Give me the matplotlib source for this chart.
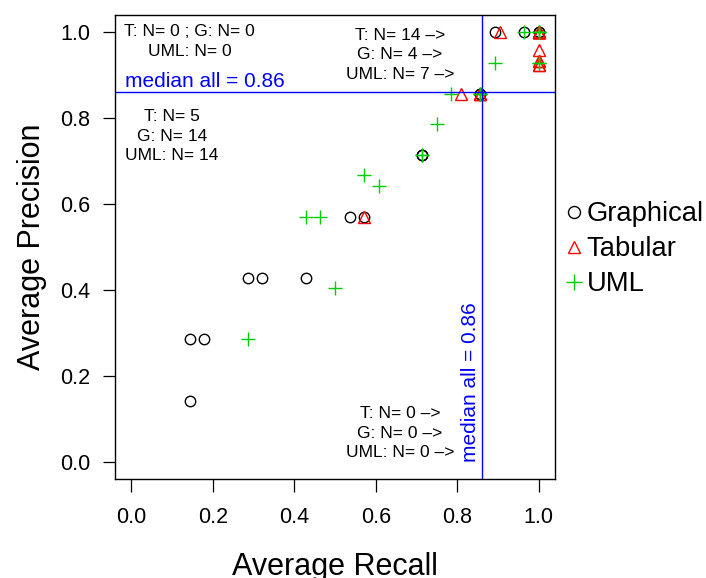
import matplotlib
matplotlib.use("Agg")
import matplotlib.pyplot as plt

plt.rcParams["font.family"] = ["Liberation Sans", "DejaVu Sans"]

# ---------------- data ----------------
g_recall = [0.143, 0.143, 0.179, 0.286, 0.321, 0.429, 0.536, 0.571, 0.714, 0.714,
            0.857, 0.857, 0.893, 0.964, 1.0, 1.0]
g_prec = [0.143, 0.286, 0.286, 0.429, 0.429, 0.429, 0.571, 0.571, 0.714, 0.714,
          0.857, 0.857, 1.0, 1.0, 1.0, 1.0]

t_recall = [0.571, 0.810, 0.857, 0.857, 0.857, 0.905, 1.0, 1.0, 1.0, 1.0, 1.0,
            1.0, 1.0, 1.0, 1.0, 1.0, 1.0, 1.0, 1.0]
t_prec = [0.571, 0.857, 0.857, 0.857, 0.857, 1.0, 1.0, 1.0, 1.0, 1.0, 1.0,
          1.0, 1.0, 1.0, 0.958, 0.933, 0.933, 0.923, 0.923]

u_recall = [0.286, 0.500, 0.429, 0.464, 0.571, 0.607, 0.714, 0.714, 0.750, 0.786,
            0.857, 0.857, 0.857, 0.893, 0.964, 1.0, 1.0, 1.0, 1.0, 1.0]
u_prec = [0.286, 0.405, 0.571, 0.571, 0.667, 0.643, 0.714, 0.714, 0.786, 0.857,
          0.857, 0.857, 0.857, 0.929, 1.0, 1.0, 1.0, 1.0, 0.929, 0.929]

median_all = 0.86
ticks = [0.0, 0.2, 0.4, 0.6, 0.8, 1.0]

BLUE = "#0000FF"; RED = "#FF0000"; GREEN = "#00CD00"

fig = plt.figure(figsize=(7.06, 5.78), dpi=100)
ax = fig.add_axes([0.163, 0.171, 0.623, 0.803])

ax.plot(g_recall, g_prec, ls="none", marker="o", ms=7.5, mfc="none", mec="black",
        mew=1.0, label="Graphical")
ax.plot(t_recall, t_prec, ls="none", marker="^", ms=8, mfc="none", mec=RED,
        mew=1.0, label="Tabular")
ax.plot(u_recall, u_prec, ls="none", marker="+", ms=10.5, mec=GREEN,
        mew=1.0, label="UML")

ax.axvline(median_all, color=BLUE, lw=1.0)
ax.axhline(median_all, color=BLUE, lw=1.0)

ax.set_xlim(-0.04, 1.04)
ax.set_ylim(-0.04, 1.04)
ax.set_xticks(ticks)
ax.set_yticks(ticks)
ax.set_xticklabels([f"{t:.1f}" for t in ticks])
ax.set_yticklabels([f"{t:.1f}" for t in ticks])
ax.tick_params(axis="both", length=9, width=0.9, labelsize=15.5, direction="out")
ax.tick_params(axis="x", pad=11)
ax.tick_params(axis="y", pad=9)
for s in ax.spines.values():
    s.set_linewidth(1.0)

ax.set_xlabel("Average Recall", fontsize=22)
ax.set_ylabel("Average Precision", fontsize=22)
ax.xaxis.set_label_coords(0.5, -0.156)
ax.yaxis.set_label_coords(-0.155, 0.5)

# quadrant annotations
fs = 12.5
ls = 1.38
ax.text(0.143, 0.979, "T: N= 0 ; G: N= 0\nUML: N= 0", ha="center", va="center",
        fontsize=fs, linespacing=ls)
ax.text(0.099, 0.758, "T: N= 5\nG: N= 14\nUML: N= 14", ha="center", va="center",
        fontsize=fs, linespacing=ls)
ax.text(0.659, 0.947, "T: N= 14 \u2013>\nG: N= 4 \u2013>\nUML: N= 7 \u2013>",
        ha="center", va="center", fontsize=fs, linespacing=ls)
ax.text(0.659, 0.067, "T: N= 0 \u2013>\nG: N= 0 \u2013>\nUML: N= 0 \u2013>",
        ha="center", va="center", fontsize=fs, linespacing=ls)

ax.text(-0.016, median_all + 0.003, "median all = 0.86", color=BLUE, fontsize=15,
        ha="left", va="bottom")
ax.text(median_all - 0.004, 0.0, "median all = 0.86", color=BLUE, fontsize=15,
        rotation=90, ha="right", va="bottom")

leg = ax.legend(loc="center left", bbox_to_anchor=(1.0, 0.495), frameon=False,
                fontsize=19.7, handlelength=0.6, handletextpad=0.15,
                labelspacing=0.33, borderaxespad=0.0, markerscale=1.15)

fig.savefig("out.png", dpi=100)
